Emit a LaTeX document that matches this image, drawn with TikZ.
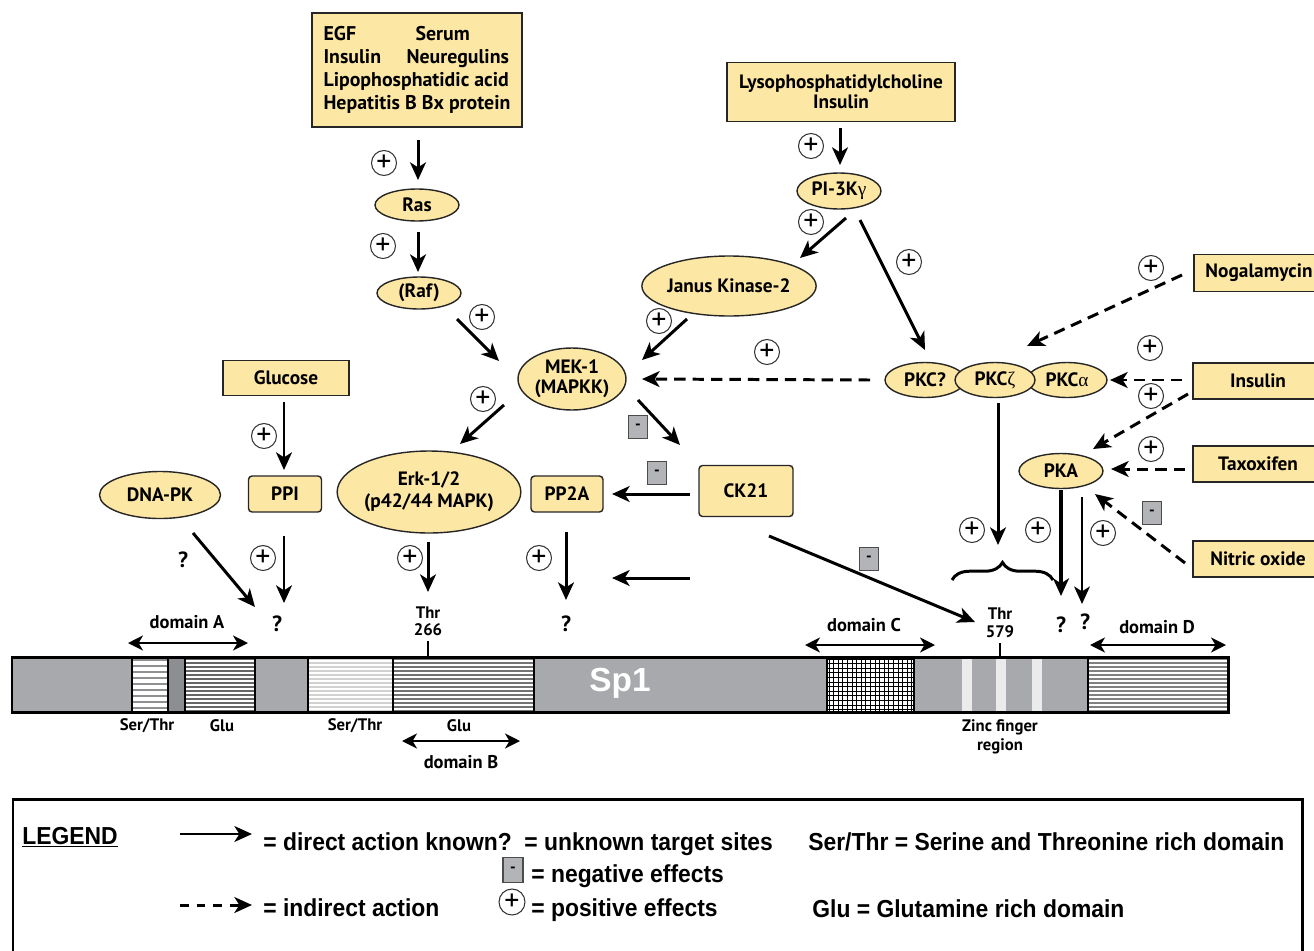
\documentclass[tikz,border=0pt]{standalone}
\usepackage{fontspec}
\setmainfont{PT Sans}
\newfontfamily\legfont{Liberation Sans}[FakeStretch=0.93]
\newfontfamily\sptext{Liberation Sans}
\newfontfamily\grkfont{Liberation Serif}
\usepackage{tikz}
\usetikzlibrary{shapes.geometric, arrows.meta, decorations.pathreplacing}

\definecolor{sand}{RGB}{253,231,164}
\definecolor{bargray}{RGB}{167,169,172}
\definecolor{darkbar}{RGB}{140,142,145}
\definecolor{minusgray}{RGB}{178,180,183}

\begin{document}
\begin{tikzpicture}
      [
        x=0.02cm, y=-0.02cm,
        lbl/.style={font=\bfseries\fontsize{11}{11.5}\selectfont, align=center},
        src/.style={lbl, rectangle, draw=black!85, line width=0.8pt, fill=sand, inner sep=0pt},
        enz/.style={lbl, ellipse, draw=black!85, line width=0.8pt, fill=sand, inner sep=0pt},
        rbox/.style={lbl, rectangle, rounded corners=2pt, draw=black!85, line width=0.8pt, fill=sand, inner sep=0pt},
        plus/.style={circle, draw=black!80, line width=0.6pt, inner sep=0pt, minimum size=0.5cm, font=\fontsize{17}{17}\selectfont},
        minus/.style={rectangle, draw=black!70, line width=0.6pt, fill=minusgray, inner sep=0pt, minimum width=0.38cm, minimum height=0.46cm, font=\bfseries\fontsize{9}{9}\selectfont},
        qm/.style={font=\bfseries\fontsize{12.5}{12.5}\selectfont, inner sep=0pt},
        small/.style={font=\bfseries\fontsize{9.5}{9.8}\selectfont, align=center, inner sep=0pt},
        dom/.style={font=\bfseries\fontsize{10.5}{10.5}\selectfont, inner sep=0pt},
        arr/.style={-{Stealth[length=10pt,width=9pt,inset=2.8pt]}, line width=1.7pt},
        darr/.style={arr, dash pattern=on 6.5pt off 4pt},
        twoway/.style={{Stealth[length=8.5pt,width=8.5pt,inset=2.5pt]}-{Stealth[length=8.5pt,width=8.5pt,inset=2.5pt]}, line width=1.5pt},
        leg/.style={font=\legfont\bfseries\fontsize{14}{14}\selectfont, anchor=base west, inner sep=0pt}
      ]
      \useasboundingbox (0,0) rectangle (1314,950);

      % Sp1 protein bar
      \fill[bargray] (12,657) rectangle (1228,712);
      \fill[white] (132,657) rectangle (168,712);
      \foreach \yy in {660,666,...,708} {
          \draw[bargray!85!black, line width=1.6pt] (132,\yy) -- (168,\yy);
      }
      \fill[darkbar] (168,657) rectangle (185,712);
      \foreach \xa/\xb/\shade in {185/255/60, 308/393/18, 393/534/55, 1088/1228/50} {
          \fill[white] (\xa,657) rectangle (\xb,712);
          \foreach \yy in {659,663,...,711} {
              \draw[black!\shade, line width=0.9pt] (\xa,\yy) -- (\xb,\yy);
          }
      }
      % domain C grid
      \fill[white] (827,657) rectangle (914,712);
      \foreach \gx in {829,833.6,...,913} {
          \draw[black, line width=0.45pt] (\gx,657) -- (\gx,712);
      }
      \foreach \gy in {659,663.6,...,712} {
          \draw[black, line width=0.45pt] (827,\gy) -- (914,\gy);
      }
      % zinc fingers
      \foreach \zx in {967,1001,1037} {
          \fill[black!8] (\zx-5,657) rectangle (\zx+5,712);
      }
      \foreach \sx in {132,168,185,255,308,393,534,827,914,1088} {
          \draw[line width=1.1pt] (\sx,657) -- (\sx,712);
      }
      \draw[line width=1.7pt] (12,657) rectangle (1228,712);
      \draw[line width=1.4pt] (428,641) -- (428,657);
      \draw[line width=1.4pt] (1000,643) -- (1000,657);
      \node[font=\sptext\bfseries\fontsize{19}{19}\selectfont, text=white] (sp1) at (620,683) {Sp1};

      % bar labels
      \node[small] (stA) at (147,726) {Ser/Thr};
      \node[small] (gluA) at (222,726) {Glu};
      \node[small] (stB) at (355,726) {Ser/Thr};
      \node[small] (gluB) at (459,726) {Glu};
      \node[small, font=\bfseries\fontsize{9.5}{10.8}\selectfont] (zinc) at (1000,737) {Zinc finger\\region};
      \node[small] (thrA) at (428,621) {Thr\\266};
      \node[small, font=\bfseries\fontsize{9.5}{10.2}\selectfont] (thrB) at (1000,623) {Thr\\579};
      \node[dom] (domA) at (187,622) {domain A};
      \node[dom] (domB) at (461,762) {domain B};
      \node[dom] (domC) at (864,625) {domain C};
      \node[dom] (domD) at (1157,627) {domain D};
      \foreach \xa/\xb/\yy in {128/248/643, 402/520/741, 805/935/645, 1090/1226/645} {
          \draw[twoway] (\xa,\yy) -- (\xb,\yy);
      }

      % sources
      \node[src, minimum width=4.2cm, minimum height=2.28cm, align=left,
            font=\bfseries\fontsize{11.3}{13}\selectfont] (growth) at (417,70)
            {\makebox[1.84cm][l]{EGF}Serum\\ \makebox[1.66cm][l]{Insulin}Neuregulins\\
             Lipophosphatidic acid\\ Hepatitis B Bx protein};
      \node[src, minimum width=4.56cm, minimum height=1.18cm] (lyso) at (841,92) {Lysophosphatidylcholine\\Insulin};
      \node[src, minimum width=2.52cm, minimum height=0.7cm] (gluc) at (286,378) {Glucose};
      \node[src, minimum width=2.6cm, minimum height=0.74cm] (nog) at (1259,273) {Nogalamycin};
      \node[src, minimum width=2.6cm, minimum height=0.72cm] (insb) at (1258,381) {Insulin};
      \node[src, minimum width=2.6cm, minimum height=0.72cm] (tax) at (1258,464) {Taxoxifen};
      \node[src, minimum width=2.6cm, minimum height=0.72cm] (nox) at (1258,559) {Nitric oxide};

      % kinases and phosphatases
      \node[enz, minimum width=1.68cm, minimum height=0.64cm] (ras) at (417,205) {Ras};
      \node[enz, minimum width=1.68cm, minimum height=0.64cm] (raf) at (419,293) {(Raf)};
      \node[enz, minimum width=2.16cm, minimum height=1.24cm] (mek) at (572,379) {MEK-1\\(MAPKK)};
      \node[enz, minimum width=3.08cm, minimum height=1.2cm] (jak) at (729,286) {Janus Kinase-2};
      \node[enz, minimum width=1.68cm, minimum height=0.72cm] (pik) at (839,191) {PI-3K{\grkfont\mdseries γ}};
      \node[enz, minimum width=1.6cm, minimum height=0.7cm] (pkcq) at (925,380) {PKC?};
      \node[enz, minimum width=1.6cm, minimum height=0.7cm] (pkca) at (1067,380) {PKC{\grkfont\mdseries α}};
      \node[enz, minimum width=1.6cm, minimum height=0.7cm] (pkcz) at (995,380) {PKC{\grkfont\mdseries ζ}};
      \node[enz, minimum width=1.68cm, minimum height=0.7cm] (pka) at (1061,471) {PKA};
      \node[enz, minimum width=2.42cm, minimum height=0.94cm] (dnapk) at (160,495) {DNA-PK};
      \node[enz, minimum width=3.36cm, minimum height=1.64cm,
            font=\bfseries\fontsize{11}{12.5}\selectfont] (erk) at (429,492) {Erk-1/2\\(p42/44 MAPK)};
      \node[rbox, minimum width=1.46cm, minimum height=0.72cm] (ppi) at (285,494) {PPI};
      \node[rbox, minimum width=1.44cm, minimum height=0.72cm] (pp2a) at (567,494) {PP2A};
      \node[rbox, minimum width=1.88cm, minimum height=1.02cm] (ck) at (746,491) {CK21};

      % unknown sites
      \node[qm] (qdna) at (183,560) {?};
      \node[qm] (qppi) at (277,624) {?};
      \node[qm] (qpp) at (566,624) {?};
      \node[qm] (qpka1) at (1061,625) {?};
      \node[qm] (qpka2) at (1085,622) {?};

      % effects
      \foreach \px/\py [count=\i] in {384/163, 383/246, 482/317, 659/321, 811/146, 811/222,
                                      909/262, 767/352, 1151/268, 1150/348, 1151/396, 1151/449,
                                      972/530, 1038/530, 1103/533, 264/436, 263/558, 483/399,
                                      410/558, 539/558} {
          \node[plus] (plus\i) at (\px,\py) {+};
      }
      \foreach \px/\py [count=\i] in {638/427, 657/473, 869/559, 1152/513} {
          \node[minus] (minus\i) at (\px,\py) {-};
      }

      % direct actions
      \draw[arr] ([shift={(1,70)}]growth.center) -- ([shift={(1,-25)}]ras.center);
      \draw[arr] ([shift={(1,27)}]ras.center) -- ([shift={(-1,-21)}]raf.center);
      \draw[arr] ([shift={(38,26)}]raf.center) -- ([shift={(-73,-18)}]mek.center);
      \draw[arr] ([shift={(-42,33)}]jak.center) -- ([shift={(70,-19)}]mek.center);
      \draw[arr] ([shift={(-1,36)}]lyso.center) -- ([shift={(1,-26)}]pik.center);
      \draw[arr] ([shift={(7,27)}]pik.center) -- ([shift={(71,-28)}]jak.center);
      \draw[arr] ([shift={(21,29)}]pik.center) -- ([shift={(0,-30)}]pkcq.center);
      \draw[arr] ([shift={(-2,24)}]gluc.center) -- ([shift={(-1,-24)}]ppi.center);
      \draw[arr] ([shift={(-1,42)}]ppi.center) -- ([shift={(7,-21)}]qppi.center);
      \draw[arr] ([shift={(33,38)}]dnapk.center) -- ([shift={(-22,-17)}]qppi.center);
      \draw[arr] ([shift={(-68,26)}]mek.center) -- ([shift={(31,-48)}]erk.center);
      \draw[arr] ([shift={(66,21)}]mek.center) -- ([shift={(-66,-46)}]ck.center);
      \draw[arr] ([shift={(-56,3)}]ck.center) -- ([shift={(45,0)}]pp2a.center);
      \draw[arr] ([shift={(-1,50)}]erk.center) -- ([shift={(0,-29)}]thrA.center);
      \draw[arr] ([shift={(-1,38)}]pp2a.center) -- ([shift={(0,-24)}]qpp.center);
      \coordinate (loosea) at (690,578);
      \coordinate (looseb) at (612,578);
      \draw[arr] (loosea) -- (looseb);
      \draw[arr] ([shift={(23,45)}]ck.center) -- ([shift={(-25,-1)}]thrB.center);
      \coordinate (bracetip) at (998,545);
      \draw[arr] ([shift={(3,23)}]pkcz.center) -- (bracetip);
      \draw[decorate, decoration={brace, amplitude=10pt}, line width=1.7pt] (952,580) -- (1053,580);
      \draw[arr, line width=2.1pt] ([shift={(0,19)}]pka.center) -- ([shift={(0,-29)}]qpka1.center);
      \draw[arr, line width=1.2pt] ([shift={(21,26)}]pka.center) -- ([shift={(-3,-18)}]qpka2.center);

      % indirect actions
      \draw[darr] ([shift={(-55,0)}]pkcq.center) -- ([shift={(70,0)}]mek.center);
      \draw[darr] ([shift={(-77,2)}]nog.center) -- ([shift={(32,-34)}]pkcz.center);
      \draw[darr] ([shift={(-76,-1)}]insb.center) -- ([shift={(43,0)}]pkca.center);
      \draw[darr] ([shift={(-70,13)}]insb.center) -- ([shift={(32,-22)}]pka.center);
      \draw[darr] ([shift={(-73,5)}]tax.center) -- ([shift={(50,-2)}]pka.center);
      \draw[darr] ([shift={(-73,4)}]nox.center) -- ([shift={(34,23)}]pka.center);

      % legend
      \draw[line width=1.7pt] (13,799) rectangle (1302,990);
      \node[leg] (legtitle) at (22,844) {\underline{LEGEND}};
      \coordinate (sola) at (180,834);
      \coordinate (solb) at (252,834);
      \draw[arr, line width=1.5pt] (sola) -- (solb);
      \node[leg] (direct) at (263,850) {= direct action known?};
      \node[leg] (unknown) at (524,850) {= unknown target sites};
      \node[leg] (serthr) at (808,850) {Ser/Thr = Serine and Threonine rich domain};
      \node[minus, minimum width=0.4cm, minimum height=0.5cm] (legminus) at (513,870) {-};
      \node[leg] (neg) at (531,882) {= negative effects};
      \coordinate (dasha) at (180,905);
      \coordinate (dashb) at (252,905);
      \draw[arr, line width=1.7pt, dash pattern=on 5pt off 4.5pt] (dasha) -- (dashb);
      \node[leg] (indirect) at (263,916) {= indirect action};
      \node[plus, minimum size=0.52cm] (legplus) at (512,902) {+};
      \node[leg] (pos) at (531,916) {= positive effects};
      \node[leg] (glut) at (812,917) {Glu = Glutamine rich domain};
\end{tikzpicture}
\end{document}
